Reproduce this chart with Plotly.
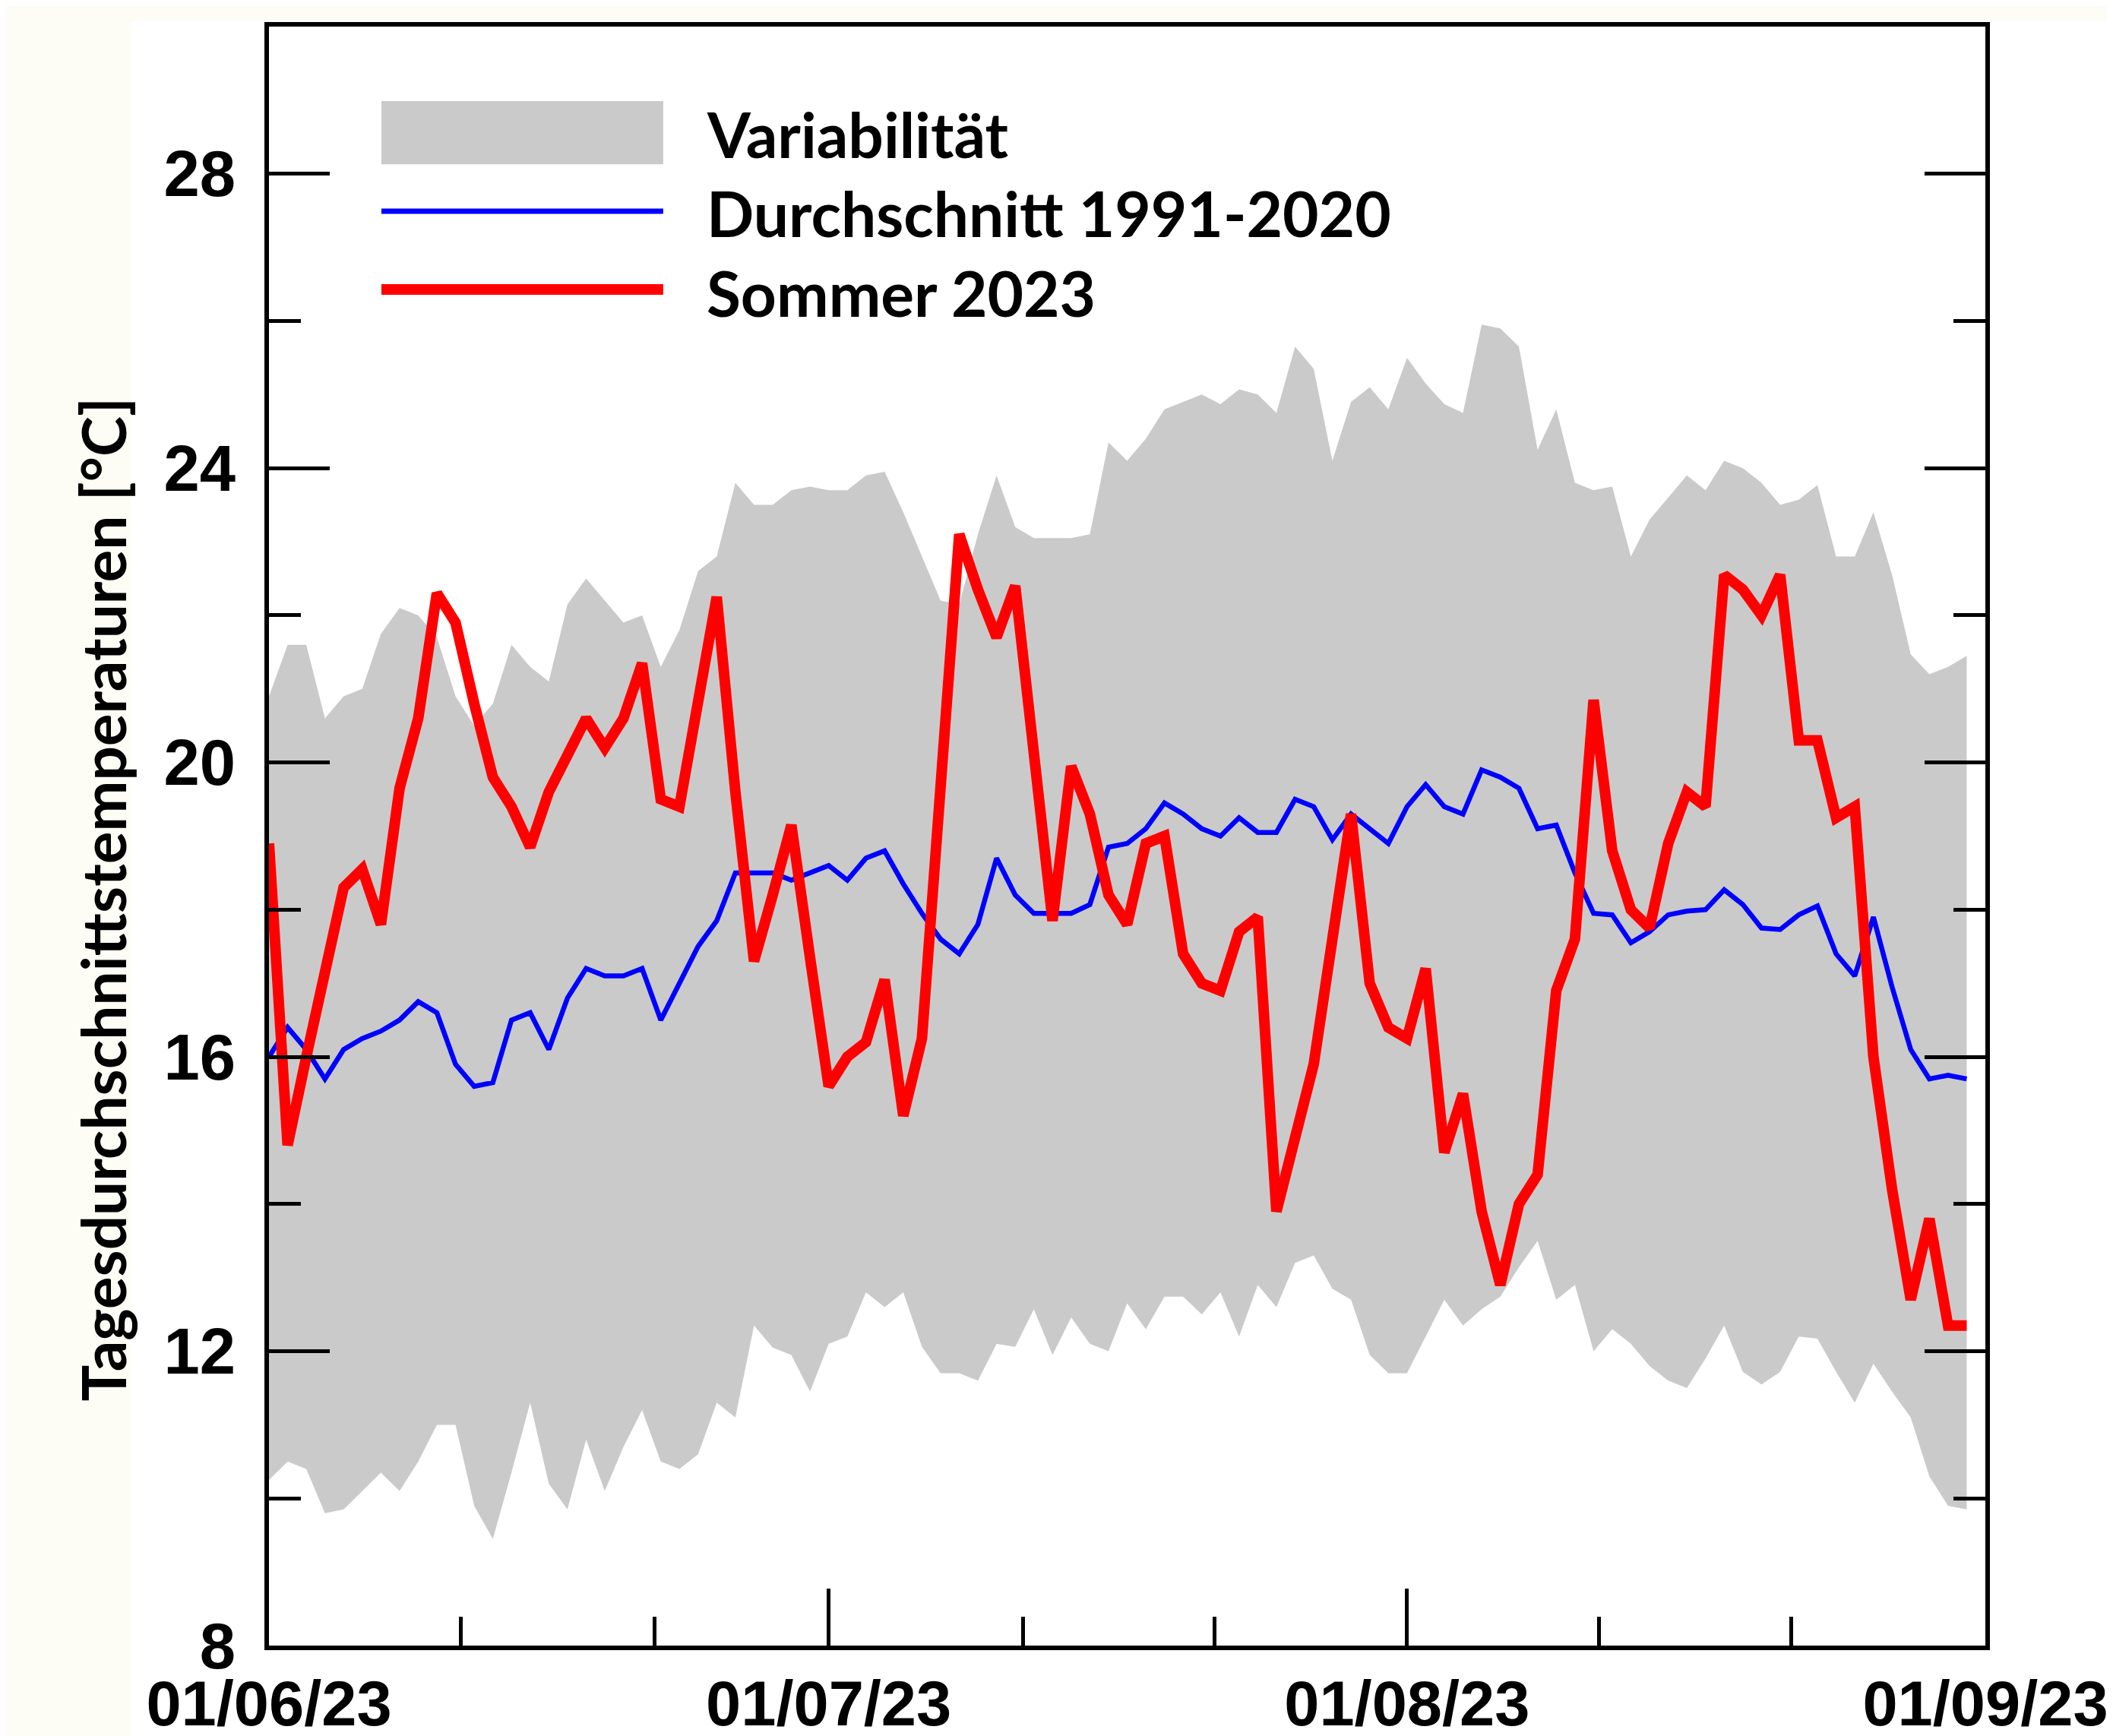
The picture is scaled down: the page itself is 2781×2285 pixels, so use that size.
import plotly.graph_objects as go
import pandas as pd

# ---------------- data ----------------
dates = pd.date_range("2023-06-01", "2023-08-31", freq="D")

sommer_2023 = [
    18.9, 14.8, 16.0, 17.2, 18.3, 18.55, 17.8, 19.65, 20.6, 22.3,
    21.9, 20.8, 19.8, 19.4, 18.85, 19.6, 20.1, 20.6, 20.2, 20.6,
    21.35, 19.5, 19.4, 20.8, 22.25, 19.6, 17.3, 18.2, 19.15, 17.35,
    15.6, 16.0, 16.2, 17.05, 15.2, 16.25, 19.6, 23.1, 22.35, 21.7,
    22.4, 20.0, 17.85, 19.95, 19.3, 18.2, 17.8, 18.9, 19.0, 17.4,
    17.0, 16.9, 17.7, 17.9, 13.9, 14.9, 15.9, 17.6, 19.3, 17.0,
    16.4, 16.25, 17.2, 14.7, 15.5, 13.9, 12.9, 14.0, 14.4, 16.9,
    17.6, 20.85, 18.8, 18.0, 17.75, 18.9, 19.6, 19.4, 22.55, 22.35,
    22.0, 22.55, 20.3, 20.3, 19.25, 19.4, 16.0, 14.2, 12.7, 13.8,
    12.35, 12.35,
]

durchschnitt_1991_2020 = [
    16.0, 16.4, 16.1, 15.7, 16.1, 16.25, 16.35, 16.5, 16.75, 16.6,
    15.9, 15.6, 15.65, 16.5, 16.6, 16.1, 16.8, 17.2, 17.1, 17.1,
    17.2, 16.5, 17.0, 17.5, 17.85, 18.5, 18.5, 18.5, 18.4, 18.5,
    18.6, 18.4, 18.7, 18.8, 18.35, 17.95, 17.6, 17.4, 17.8, 18.7,
    18.2, 17.95, 17.95, 17.95, 18.07, 18.85, 18.9, 19.1, 19.45, 19.3,
    19.1, 19.0, 19.25, 19.05, 19.05, 19.5, 19.4, 18.95, 19.3, 19.1,
    18.9, 19.4, 19.7, 19.4, 19.3, 19.9, 19.8, 19.65, 19.1, 19.15,
    18.5, 17.95, 17.93, 17.55, 17.7, 17.93, 17.98, 18.0, 18.27, 18.07,
    17.75, 17.73, 17.93, 18.05, 17.4, 17.1, 17.9, 16.95, 16.1, 15.7,
    15.75, 15.7,
]

variabilitaet_oben = [
    20.9, 21.6, 21.6, 20.6, 20.9, 21.0, 21.75, 22.1, 22.0, 21.7,
    20.9, 20.5, 20.8, 21.6, 21.3, 21.1, 22.15, 22.5, 22.2, 21.9,
    22.0, 21.3, 21.8, 22.6, 22.8, 23.8, 23.5, 23.5, 23.7, 23.75,
    23.7, 23.7, 23.9, 23.95, 23.4, 22.8, 22.2, 22.15, 23.1, 23.9,
    23.2, 23.05, 23.05, 23.05, 23.1, 24.35, 24.1, 24.4, 24.8, 24.9,
    25.0, 24.87, 25.07, 25.0, 24.75, 25.65, 25.35, 24.1, 24.9, 25.1,
    24.8, 25.5, 25.15, 24.87, 24.75, 25.95, 25.9, 25.65, 24.25, 24.8,
    23.8, 23.7, 23.75, 22.8, 23.3, 23.6, 23.9, 23.7, 24.1, 24.0,
    23.8, 23.5, 23.57, 23.77, 22.8, 22.8, 23.4, 22.55, 21.47, 21.2,
    21.3, 21.45,
]

variabilitaet_unten = [
    10.25, 10.5, 10.4, 9.8, 9.85, 10.1, 10.35, 10.1, 10.5, 11.0,
    11.0, 9.9, 9.45, 10.35, 11.3, 10.2, 9.85, 10.8, 10.1, 10.7,
    11.2, 10.5, 10.4, 10.6, 11.3, 11.1, 12.35, 12.05, 11.95, 11.45,
    12.1, 12.2, 12.8, 12.6, 12.8, 12.06, 11.7, 11.7, 11.6, 12.1,
    12.06, 12.57, 11.95, 12.46, 12.1, 12.0, 12.65, 12.3, 12.74, 12.74,
    12.5, 12.8, 12.2, 12.9, 12.6, 13.2, 13.3, 12.85, 12.7, 11.95,
    11.7, 11.7, 12.2, 12.7, 12.35, 12.57, 12.74, 13.14, 13.5, 12.7,
    12.9, 12.0, 12.3, 12.1, 11.8, 11.6, 11.5, 11.9, 12.35, 11.72,
    11.55, 11.72, 12.2, 12.17, 11.72, 11.3, 11.83, 11.45, 11.1, 10.3,
    9.9, 9.85,
]

x_tickvals = ["2023-06-01", "2023-07-01", "2023-08-01", "2023-09-01"]
x_ticktext = ["01/06/23", "01/07/23", "01/08/23", "01/09/23"]
x_minor_tickvals = ["2023-06-11 07:12", "2023-06-21 15:36", "2023-07-11 09:36",
                    "2023-07-21 16:48", "2023-08-11 07:12", "2023-08-21 14:24"]
y_tickvals = [8, 12, 16, 20, 24, 28]
y_minor_tickvals = [10, 14, 18, 22, 26, 30]

legend_labels = ["Variabilität", "Durchschnitt 1991-2020", "Sommer 2023"]
y_title = "Tagesdurchschnittstemperaturen [°C]"

GRAY = "#CACACA"
BLUE = "#0000FF"
RED = "#FF0000"

# ---------------- figure ----------------
fig = go.Figure()
fig.add_trace(go.Scatter(x=dates, y=variabilitaet_unten, mode="lines",
                         line=dict(width=0, color="rgba(0,0,0,0)"),
                         showlegend=False, hoverinfo="skip"))
fig.add_trace(go.Scatter(x=dates, y=variabilitaet_oben, mode="lines",
                         line=dict(width=0, color="rgba(0,0,0,0)"),
                         fill="tonexty", fillcolor=GRAY,
                         name=legend_labels[0], showlegend=False))
fig.add_trace(go.Scatter(x=dates, y=durchschnitt_1991_2020, mode="lines",
                         line=dict(width=6.5, color=BLUE),
                         name=legend_labels[1], showlegend=False))
fig.add_trace(go.Scatter(x=dates, y=sommer_2023, mode="lines",
                         line=dict(width=14, color=RED),
                         name=legend_labels[2], showlegend=False))

ytick_font = dict(family="Liberation Sans, Arial", size=85, color="black", weight="bold")
xtick_font = dict(family="Liberation Sans, Arial", size=83, color="black", weight="bold")
text_font = dict(family="Lato, Open Sans", size=82, color="black", weight="bold")

fig.update_layout(
    width=2781, height=2285,
    margin=dict(l=346, r=176, t=27, b=127, pad=0, autoexpand=False),
    paper_bgcolor="#FDFDF6",
    plot_bgcolor="white",
    xaxis=dict(
        type="date", range=["2023-06-01", "2023-09-01"], automargin=False,
        tickmode="array", tickvals=x_tickvals, ticktext=x_ticktext,
        ticks="inside", ticklen=75, tickwidth=5, tickcolor="black",
        showline=True, linewidth=6, linecolor="black", mirror=True,
        showgrid=False, zeroline=False, tickfont=xtick_font,
        ticklabelstandoff=-1,
        minor=dict(tickmode="array", tickvals=x_minor_tickvals, ticks="inside",
                   ticklen=38, tickwidth=5, tickcolor="black", showgrid=False),
    ),
    yaxis=dict(
        range=[8, 30], tickmode="array", tickvals=y_tickvals, automargin=False,
        ticks="inside", ticklen=80, tickwidth=5, tickcolor="black",
        showline=True, linewidth=6, linecolor="black", mirror="allticks",
        showgrid=False, zeroline=False, tickfont=ytick_font,
        ticklabelstandoff=21,
        minor=dict(tickmode="array", tickvals=y_minor_tickvals, ticks="inside",
                   ticklen=42, tickwidth=5, tickcolor="black", showgrid=False),
    ),
)

# white page area (the reference has a cream strip on the left/top)
fig.add_shape(type="rect", xref="paper", yref="paper",
              x0=-0.0806, x1=1.2, y0=-0.2, y1=1.0033,
              fillcolor="white", line=dict(width=0), layer="below")

# custom legend
fig.add_shape(type="rect", xref="paper", yref="paper",
              x0=0.0655, x1=0.2297, y0=0.915, y1=0.954,
              fillcolor=GRAY, line=dict(width=0))
fig.add_shape(type="line", xref="paper", yref="paper",
              x0=0.0655, x1=0.2297, y0=0.886, y1=0.886,
              line=dict(color=BLUE, width=7))
fig.add_shape(type="line", xref="paper", yref="paper",
              x0=0.0655, x1=0.2297, y0=0.8376, y1=0.8376,
              line=dict(color=RED, width=14))
for lab, yy in zip(legend_labels, [0.9338, 0.885, 0.8358]):
    fig.add_annotation(text=lab, xref="paper", yref="paper", x=0.2539, y=yy,
                       xanchor="left", yanchor="middle", showarrow=False,
                       font=text_font)

fig.add_annotation(text=y_title, xref="paper", yref="paper", x=-0.097, y=0.461,
                   xanchor="center", yanchor="middle", textangle=-90,
                   showarrow=False, font=dict(family="Lato, Open Sans", size=80,
                                              color="black", weight="bold"))

fig.write_html("out.html")
